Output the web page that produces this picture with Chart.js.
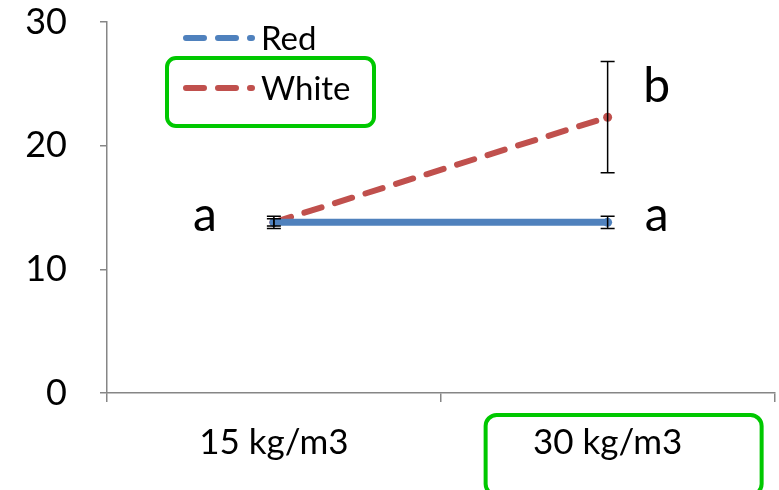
<!DOCTYPE html>
<html>
<head>
<meta charset="utf-8">
<script src="https://cdn.jsdelivr.net/npm/chart.js@4/dist/chart.umd.min.js"></script>
<style>
  html, body { margin: 0; padding: 0; background: #fff; }
  #wrap { width: 779px; height: 490px; }
</style>
</head>
<body>
<div id="wrap"><canvas id="chart" width="779" height="490"></canvas></div>
<script>
// ---- Data ----
const categories = ["15 kg/m3", "30 kg/m3"];
const seriesNames = ["Red", "White"];
const redValues = [13.8, 13.8];
const whiteValues = [13.8, 22.3];
const redErrors = [0.5, 0.5];
const whiteErrors = [0.3, 4.5];
const yTicks = [0, 10, 20, 30];
// significance letters: [category index, value, text]
const letters = [[0, 14.1, "a"], [1, 24.5, "b"], [1, 14.1, "a"]];

const FONT = "Lato, 'Open Sans', sans-serif";
const COLORS = { Red: "#4f81bd", White: "#c0504d" };
const GREEN = "#00c800";

function roundRect(ctx, x, y, w, h, r) {
  ctx.beginPath();
  ctx.moveTo(x + r, y);
  ctx.arcTo(x + w, y, x + w, y + h, r);
  ctx.arcTo(x + w, y + h, x, y + h, r);
  ctx.arcTo(x, y + h, x, y, r);
  ctx.arcTo(x, y, x + w, y, r);
  ctx.closePath();
}

// error bars, letters, legend and the green highlight boxes
const extras = {
  id: "extras",
  afterDatasetsDraw(chart) {
    const { ctx, scales: { x, y } } = chart;
    ctx.save();
    // error bars
    ctx.strokeStyle = "#000";
    ctx.lineWidth = 1.5;
    [[redValues, redErrors], [whiteValues, whiteErrors]].forEach(([vals, errs]) => {
      vals.forEach((v, i) => {
        const px = x.getPixelForValue(i);
        const top = y.getPixelForValue(v + errs[i]);
        const bot = y.getPixelForValue(v - errs[i]);
        ctx.beginPath();
        ctx.moveTo(px, top); ctx.lineTo(px, bot);
        ctx.moveTo(px - 7, top); ctx.lineTo(px + 7, top);
        ctx.moveTo(px - 7, bot); ctx.lineTo(px + 7, bot);
        ctx.stroke();
      });
    });
    // letters
    ctx.fillStyle = "#000";
    ctx.font = "48px " + FONT;
    ctx.textAlign = "center";
    ctx.textBaseline = "alphabetic";
    letters.forEach(([i, v, t]) => {
      const off = i === 0 ? -69 : 49;
      ctx.fillText(t, x.getPixelForValue(i) + off, y.getPixelForValue(v) + 12);
    });
    // legend
    ctx.font = "33px " + FONT;
    ctx.textAlign = "left";
    ctx.textBaseline = "middle";
    seriesNames.forEach((name, k) => {
      const ly = 38 + k * 50;
      ctx.strokeStyle = COLORS[name];
      ctx.lineWidth = 6;
      ctx.lineCap = "round";
      ctx.setLineDash([18, 14]);
      ctx.beginPath();
      ctx.moveTo(186, ly); ctx.lineTo(252, ly);
      ctx.stroke();
      ctx.setLineDash([]);
      ctx.fillStyle = "#000";
      ctx.fillText(name, 261, ly + 1);
    });
    // green boxes
    ctx.strokeStyle = GREEN;
    ctx.lineWidth = 4;
    roundRect(ctx, 167, 58, 207, 68, 9);
    ctx.stroke();
    const cx = x.getPixelForValue(1);
    roundRect(ctx, cx - 122, 415, 276, 80, 11);
    ctx.stroke();
    ctx.restore();
  }
};

new Chart(document.getElementById("chart"), {
  type: "line",
  data: {
    labels: categories,
    datasets: [
      {
        label: seriesNames[0],
        data: redValues,
        borderColor: COLORS.Red,
        backgroundColor: COLORS.Red,
        borderWidth: 7,
        pointRadius: 4.5,
        pointBorderWidth: 0,
        borderCapStyle: "round",
      },
      {
        label: seriesNames[1],
        data: whiteValues,
        borderColor: COLORS.White,
        backgroundColor: COLORS.White,
        borderWidth: 6,
        borderDash: [18, 14],
        borderCapStyle: "round",
        pointRadius: 4.5,
        pointBorderWidth: 0,
      },
    ],
  },
  options: {
    responsive: false,
    animation: false,
    layout: { padding: { top: 22, right: -2, left: 0, bottom: 0 } },
    plugins: { legend: { display: false }, tooltip: { enabled: false } },
    scales: {
      x: {
        offset: true,
        grid: { offset: true, drawOnChartArea: false, drawTicks: true, tickLength: 9, color: "#868686", lineWidth: 1.5 },
        border: { color: "#868686", width: 1.5 },
        ticks: { color: "#000", font: { family: FONT, size: 35 }, padding: 20 },
        afterFit(s) { s.height = 97; s.paddingLeft = 0; s.paddingRight = 0; },
      },
      y: {
        min: 0,
        max: 30,
        afterBuildTicks(s) { s.ticks = yTicks.map(v => ({ value: v })); },
        grid: { drawOnChartArea: false, drawTicks: true, tickLength: 7, color: "#868686", lineWidth: 1.5 },
        border: { color: "#868686", width: 1.5 },
        ticks: { color: "#000", font: { family: FONT, size: 36 }, padding: 33 },
        afterFit(s) { s.width = 107; s.paddingTop = 0; s.paddingBottom = 0; },
      },
    },
  },
  plugins: [extras],
});
</script>
</body>
</html>
